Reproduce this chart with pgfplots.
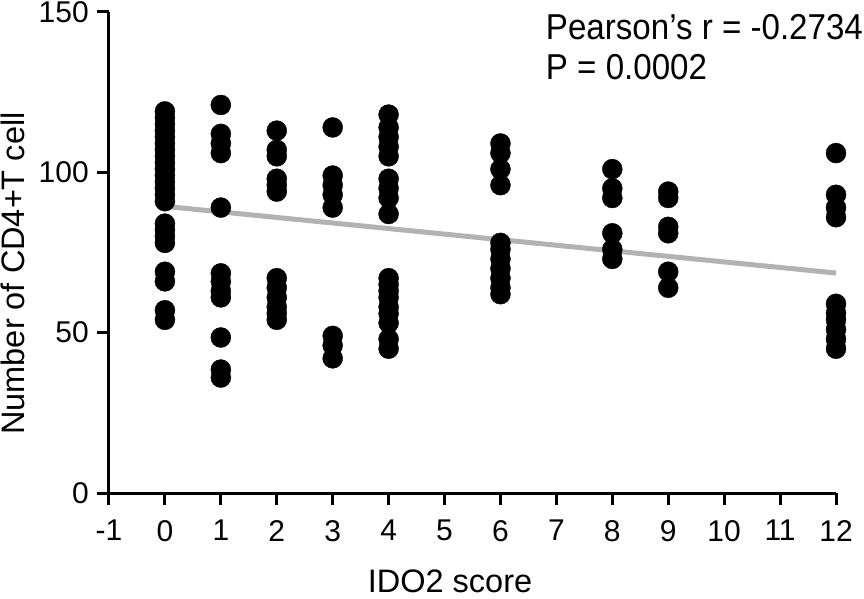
\documentclass[border=0pt]{standalone}
\usepackage{fontspec}
\setmainfont{Liberation Sans}
\newfontfamily\annfont{Liberation Sans}[FakeStretch=0.92]
\usepackage{pgfplots}
\pgfplotsset{compat=1.18}
\begin{document}
\fontsize{30}{36}\selectfont
\begin{tikzpicture}
\useasboundingbox (-109pt,-105pt) rectangle (755pt,493pt);
\begin{axis}[
 at={(0,0)}, anchor=south west,
 scale only axis, width=727pt, height=481pt,
 xmin=-1, xmax=12, ymin=0, ymax=150,
 axis x line*=bottom, axis y line*=left,
 axis line style={line width=3pt, -},
 xtick={-1,0,...,12}, ytick={0,50,100,150},
 tick style={line width=3pt, black},
 major tick length=12pt,
 tick align=outside,
 /pgf/number format/assume math mode=true,
 tick label style={font=\fontsize{30}{36}\selectfont},
 xticklabel style={anchor=north, inner sep=0pt, yshift=-15pt},
 yticklabel style={anchor=east, inner sep=0pt, xshift=-8pt},
 xlabel={IDO2 score}, ylabel={Number of CD4+T cell},
 label style={font=\fontsize{32.5}{38}\selectfont, inner sep=0pt},
 xlabel style={at={(rel axis cs:0.5,0)}, anchor=base, xshift=-22.5pt, yshift=-99pt},
 ylabel style={at={(rel axis cs:0,0.5)}, anchor=base, xshift=-21pt, yshift=84pt},
 clip=false,
]
\addplot[draw=black!30, line width=5pt] coordinates {(0,89.4) (12,68.6)};
\addplot[only marks, mark=*, mark size=10pt, black] table {
x y
0 119
0 117
0 115
0 113
0 111
0 109
0 107
0 105
0 103
0 101
0 99
0 97
0 95
0 93
0 91
0 84
0 82
0 80
0 78
0 69
0 66
0 57
0 54
1 121
1 112
1 109
1 106
1 89
1 68.5
1 66
1 63
1 61
1 48.5
1 38.5
1 36
2 113
2 107
2 105
2 98
2 96
2 94
2 67
2 64
2 61
2 58
2 56
2 54
3 114
3 99
3 96
3 93
3 89
3 49
3 46
3 42
4 118
4 114
4 111
4 108
4 105
4 98
4 95
4 92
4 87
4 67
4 65
4 63
4 61
4 58
4 56
4 53
4 48
4 45
6 109
6 106
6 101
6 96
6 78
6 76
6 73
6 70
6 67
6 64
6 62
8 101
8 95
8 92
8 81
8 76
8 73
9 94
9 92
9 83
9 81
9 69
9 64
12 106
12 93
12 89
12 86
12 59
12 56
12 54
12 51
12 48
12 45
};
\node[anchor=base west, inner sep=0pt, font=\annfont\fontsize{36}{42}\selectfont] at (axis cs:6.81,141.5) {Pearson’s r = -0.2734};
\node[anchor=base west, inner sep=0pt, font=\annfont\fontsize{36}{42}\selectfont] at (axis cs:6.81,129.1) {P = 0.0002};
\end{axis}
\end{tikzpicture}
\end{document}
